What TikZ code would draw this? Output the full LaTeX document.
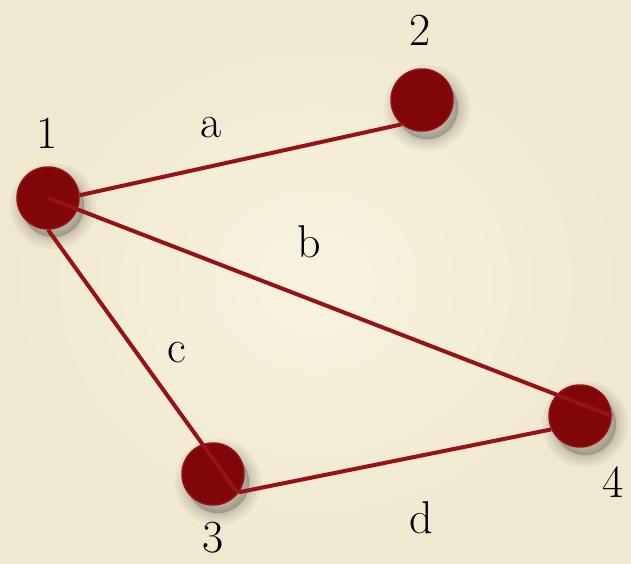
\documentclass[tikz,border=0pt]{standalone}
\usepackage{tikz}
\definecolor{parchment}{RGB}{240,232,207}
\definecolor{parchmentlight}{RGB}{248,243,224}
\definecolor{vertexred}{RGB}{128,6,10}
\definecolor{edgered}{RGB}{150,18,22}

\begin{document}
\begin{tikzpicture}[x=1pt, y=-1pt,
  shadowlayer/.style={preaction={draw=black, fill=black, opacity=0.04,
    line width=#1, transform canvas={shift={(5pt,-8pt)}}}},
  vertex/.style={circle, fill=vertexred, draw=edgered, line width=1.5pt,
    minimum size=62pt, inner sep=0pt,
    shadowlayer=24pt, shadowlayer=17pt, shadowlayer=11pt,
    shadowlayer=6pt, shadowlayer=2pt},
  edge/.style={draw=edgered, line width=4pt},
  lbl/.style={font=\fontsize{46}{50}\selectfont, text=black, inner sep=0pt}]
  % Background
  \useasboundingbox (0,0) rectangle (631,563);
  \shade[inner color=parchmentlight, outer color=parchment] (0,0) rectangle (631,563);

  % Vertices
  \node[vertex] (v1) at (48,198) {};
  \node[vertex] (v2) at (422,100) {};
  \node[vertex] (v3) at (213,474) {};
  \node[vertex] (v4) at (580,416) {};

  % Vertex labels
  \node[lbl] (l1) at (47,133) {1};
  \node[lbl] (l2) at (420,30) {2};
  \node[lbl] (l3) at (213,538) {3};
  \node[lbl] (l4) at (613,482) {4};

  % Edges
  \draw[edge] (v1.5) -- (v2.230);
  \draw[edge] (v1.center) -- (v4.east);
  \draw[edge] (v1.south) -- (v3.-38);
  \draw[edge] (v3.-35) -- (v4.205);

  % Edge labels
  \node[lbl] (la) at (211,128) {a};
  \node[lbl] (lb) at (309,242) {b};
  \node[lbl] (lc) at (177,353) {c};
  \node[lbl] (ld) at (421,518) {d};
\end{tikzpicture}
\end{document}
